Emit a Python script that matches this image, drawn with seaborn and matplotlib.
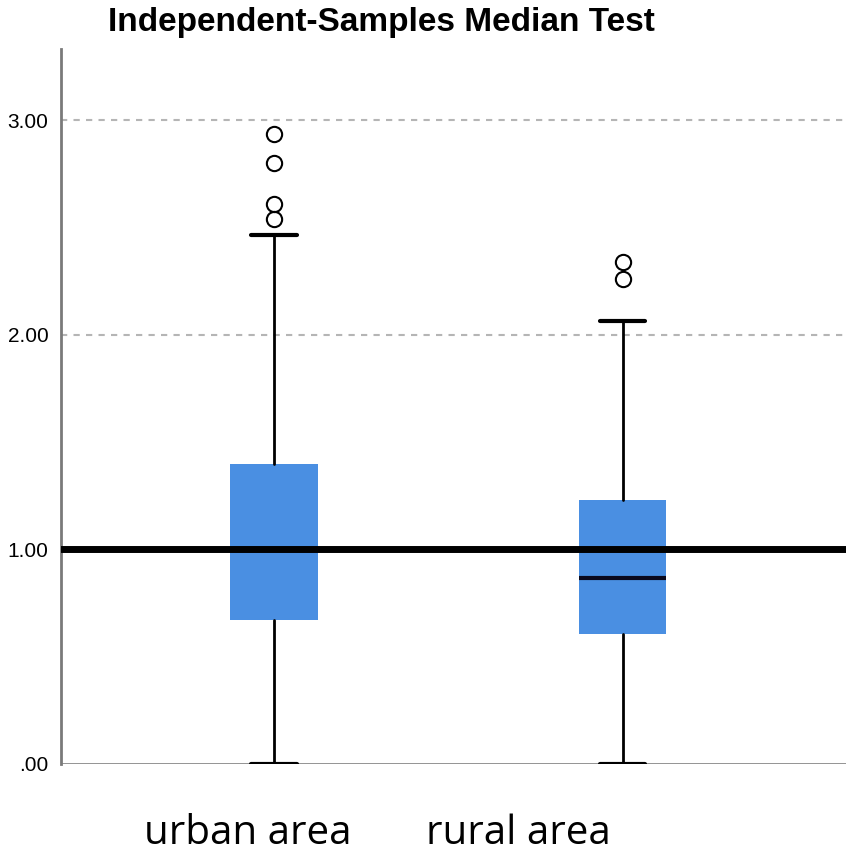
import seaborn as sns
import numpy as np
import matplotlib.pyplot as plt

# summary values
groups = ["urban area", "rural area"]
q1 = [0.672, 0.607]
med = [1.00, 0.868]
q3 = [1.40, 1.232]
whislo = [0.0, 0.0]
whishi = [2.464, 2.063]
fliers = [[2.54, 2.61, 2.80, 2.935], [2.26, 2.34]]
overall_median = 1.00
yticks = [0, 1, 2, 3]
ytick_labels = [".00", "1.00", "2.00", "3.00"]

sns.set_style("white")
plt.rcParams['font.family'] = ['Liberation Sans', 'DejaVu Sans']
plt.rcParams['text.color'] = 'black'
plt.rcParams['ytick.color'] = 'black'

fig = plt.figure(figsize=(8.51, 8.61), dpi=100)
ax = fig.add_axes([0.0717, 0.1127, 0.922, 0.830])

stats = []
for i, g in enumerate(groups):
    stats.append(dict(label=g, q1=q1[i], med=med[i], q3=q3[i],
                      whislo=whislo[i], whishi=whishi[i], fliers=fliers[i]))

box_col = "#4a8fe2"
ax.bxp(stats, positions=[0, 1], widths=0.25, patch_artist=True,
       boxprops=dict(facecolor=box_col, edgecolor=box_col, linewidth=0),
       medianprops=dict(color="#0a0a1e", linewidth=3),
       whiskerprops=dict(color="black", linewidth=2),
       capprops=dict(color="black", linewidth=3),
       capwidths=0.13,
       flierprops=dict(marker="o", markersize=11, markerfacecolor="none",
                       markeredgecolor="black", markeredgewidth=1.5),
       zorder=3)

# grid lines
for y in [2, 3]:
    ax.axhline(y, color="#b5b5b5", linestyle=(0, (3, 3)), linewidth=1.5, zorder=1)
ax.axhline(overall_median, color="black", linewidth=5, zorder=4)
ax.axhline(0, color="#8a8a8a", linewidth=2, zorder=2)

ax.set_xlim(-0.611, 1.639)
ax.set_ylim(0, 3.33)
ax.set_yticks(yticks)
ax.set_yticklabels(ytick_labels, fontsize=15, color="black")
ax.tick_params(axis="y", length=0, pad=9)
ax.set_xticks([])
for s in ["top", "right", "bottom"]:
    ax.spines[s].set_visible(False)
ax.spines["left"].set_color("#7a7a7a")
ax.spines["left"].set_linewidth(2)

fig.text(108 / 851, 1 - 23 / 861, "Independent-Samples Median Test",
         fontsize=24, fontweight="bold", ha="left", va="center", color="black")
fig.text(248 / 851, 1 - 834 / 861, groups[0], fontsize=29,
         family=["Open Sans", "DejaVu Sans"], ha="center", va="center", color="black")
fig.text(518 / 851, 1 - 834 / 861, groups[1], fontsize=29,
         family=["Open Sans", "DejaVu Sans"], ha="center", va="center", color="black")

fig.savefig("out.png", dpi=100)
